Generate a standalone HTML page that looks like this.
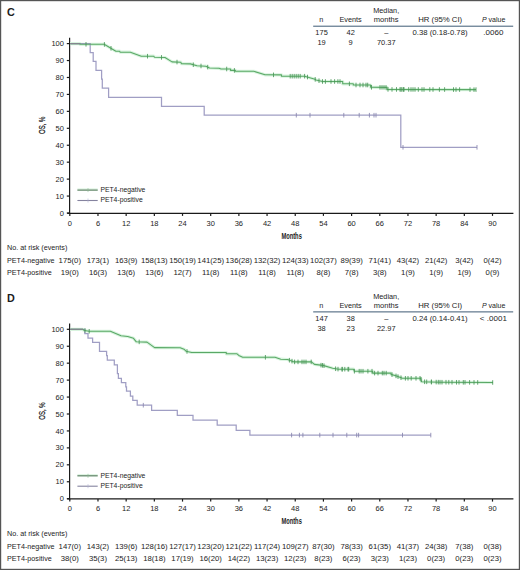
<!DOCTYPE html>
<html><head><meta charset="utf-8"><style>
html,body{margin:0;padding:0;background:#fff;}
body{width:520px;height:570px;overflow:hidden;position:relative;}
svg{position:absolute;left:0;top:0;display:block;}
text{font-family:"Liberation Sans", sans-serif;fill:#1c1c1c;}
</style></head><body>
<svg width="520" height="570" viewBox="0 0 520 570">
<rect x="0" y="0" width="520" height="570" fill="#fff"/>
<g transform="translate(0,0)">
<text x="7.0" y="16.2" font-size="10.8" font-weight="bold">C</text>
<text x="321.30" y="22.20" font-size="7.3" text-anchor="middle" >n</text>
<text x="350.60" y="22.20" font-size="7.3" text-anchor="middle" >Events</text>
<text x="386.20" y="13.20" font-size="7.3" text-anchor="middle" >Median,</text>
<text x="386.20" y="22.20" font-size="7.3" text-anchor="middle" textLength="24.80" lengthAdjust="spacingAndGlyphs" >months</text>
<text x="440.20" y="22.20" font-size="7.3" text-anchor="middle" textLength="44.00" lengthAdjust="spacingAndGlyphs" >HR (95% CI)</text>
<text x="493.7" y="22.2" font-size="7.3" text-anchor="middle" textLength="23.4" lengthAdjust="spacingAndGlyphs"><tspan font-style="italic">P</tspan> value</text>
<line x1="313.2" y1="26.2" x2="513.2" y2="26.2" stroke="#3e5a74" stroke-width="1"/>
<text x="321.60" y="34.90" font-size="7.3" text-anchor="middle" textLength="12.42" lengthAdjust="spacingAndGlyphs" >175</text>
<text x="350.70" y="34.90" font-size="7.3" text-anchor="middle" textLength="8.28" lengthAdjust="spacingAndGlyphs" >42</text>
<text x="386.30" y="34.90" font-size="7.3" text-anchor="middle" textLength="4.14" lengthAdjust="spacingAndGlyphs" >&#8211;</text>
<text x="440.00" y="34.90" font-size="7.3" text-anchor="middle" textLength="55.06" lengthAdjust="spacingAndGlyphs" >0.38 (0.18-0.78)</text>
<text x="493.40" y="34.90" font-size="7.3" text-anchor="middle" textLength="20.10" lengthAdjust="spacingAndGlyphs" >.0060</text>
<text x="321.60" y="45.40" font-size="7.3" text-anchor="middle" textLength="8.28" lengthAdjust="spacingAndGlyphs" >19</text>
<text x="350.70" y="45.40" font-size="7.3" text-anchor="middle" textLength="4.14" lengthAdjust="spacingAndGlyphs" >9</text>
<text x="386.30" y="45.40" font-size="7.3" text-anchor="middle" textLength="18.63" lengthAdjust="spacingAndGlyphs" >70.37</text>
<g stroke="#1a1a1a" stroke-width="1.2" fill="none">
<line x1="69.6" y1="37.7" x2="69.6" y2="213.9"/>
<line x1="67.2" y1="213.3" x2="513.4" y2="213.3" stroke-width="1.35"/>
<line x1="66.8" y1="213.00" x2="69.6" y2="213.00"/>
<line x1="66.8" y1="196.06" x2="69.6" y2="196.06"/>
<line x1="66.8" y1="179.12" x2="69.6" y2="179.12"/>
<line x1="66.8" y1="162.18" x2="69.6" y2="162.18"/>
<line x1="66.8" y1="145.24" x2="69.6" y2="145.24"/>
<line x1="66.8" y1="128.30" x2="69.6" y2="128.30"/>
<line x1="66.8" y1="111.36" x2="69.6" y2="111.36"/>
<line x1="66.8" y1="94.42" x2="69.6" y2="94.42"/>
<line x1="66.8" y1="77.48" x2="69.6" y2="77.48"/>
<line x1="66.8" y1="60.54" x2="69.6" y2="60.54"/>
<line x1="66.8" y1="43.60" x2="69.6" y2="43.60"/>
<line x1="69.80" y1="213.3" x2="69.80" y2="215.9"/>
<line x1="97.98" y1="213.3" x2="97.98" y2="215.9"/>
<line x1="126.16" y1="213.3" x2="126.16" y2="215.9"/>
<line x1="154.34" y1="213.3" x2="154.34" y2="215.9"/>
<line x1="182.52" y1="213.3" x2="182.52" y2="215.9"/>
<line x1="210.70" y1="213.3" x2="210.70" y2="215.9"/>
<line x1="238.88" y1="213.3" x2="238.88" y2="215.9"/>
<line x1="267.06" y1="213.3" x2="267.06" y2="215.9"/>
<line x1="295.24" y1="213.3" x2="295.24" y2="215.9"/>
<line x1="323.42" y1="213.3" x2="323.42" y2="215.9"/>
<line x1="351.60" y1="213.3" x2="351.60" y2="215.9"/>
<line x1="379.78" y1="213.3" x2="379.78" y2="215.9"/>
<line x1="407.96" y1="213.3" x2="407.96" y2="215.9"/>
<line x1="436.14" y1="213.3" x2="436.14" y2="215.9"/>
<line x1="464.32" y1="213.3" x2="464.32" y2="215.9"/>
<line x1="492.50" y1="213.3" x2="492.50" y2="215.9"/>
</g>
<text x="63.90" y="215.60" font-size="7.5" text-anchor="end" >0</text>
<text x="63.90" y="198.66" font-size="7.5" text-anchor="end" >10</text>
<text x="63.90" y="181.72" font-size="7.5" text-anchor="end" >20</text>
<text x="63.90" y="164.78" font-size="7.5" text-anchor="end" >30</text>
<text x="63.90" y="147.84" font-size="7.5" text-anchor="end" >40</text>
<text x="63.90" y="130.90" font-size="7.5" text-anchor="end" >50</text>
<text x="63.90" y="113.96" font-size="7.5" text-anchor="end" >60</text>
<text x="63.90" y="97.02" font-size="7.5" text-anchor="end" >70</text>
<text x="63.90" y="80.08" font-size="7.5" text-anchor="end" >80</text>
<text x="63.90" y="63.14" font-size="7.5" text-anchor="end" >90</text>
<text x="63.90" y="46.20" font-size="7.5" text-anchor="end" >100</text>
<text x="69.80" y="225.70" font-size="7.5" text-anchor="middle" >0</text>
<text x="97.98" y="225.70" font-size="7.5" text-anchor="middle" >6</text>
<text x="126.16" y="225.70" font-size="7.5" text-anchor="middle" >12</text>
<text x="154.34" y="225.70" font-size="7.5" text-anchor="middle" >18</text>
<text x="182.52" y="225.70" font-size="7.5" text-anchor="middle" >24</text>
<text x="210.70" y="225.70" font-size="7.5" text-anchor="middle" >30</text>
<text x="238.88" y="225.70" font-size="7.5" text-anchor="middle" >36</text>
<text x="267.06" y="225.70" font-size="7.5" text-anchor="middle" >42</text>
<text x="295.24" y="225.70" font-size="7.5" text-anchor="middle" >48</text>
<text x="323.42" y="225.70" font-size="7.5" text-anchor="middle" >54</text>
<text x="351.60" y="225.70" font-size="7.5" text-anchor="middle" >60</text>
<text x="379.78" y="225.70" font-size="7.5" text-anchor="middle" >66</text>
<text x="407.96" y="225.70" font-size="7.5" text-anchor="middle" >72</text>
<text x="436.14" y="225.70" font-size="7.5" text-anchor="middle" >78</text>
<text x="464.32" y="225.70" font-size="7.5" text-anchor="middle" >84</text>
<text x="492.50" y="225.70" font-size="7.5" text-anchor="middle" >90</text>
<text transform="translate(45.3,125.4) rotate(-90) scale(0.66,1)" x="0" y="0" font-size="9" text-anchor="middle" stroke="#111" stroke-width="0.25">OS, %</text>
<text transform="translate(291.6,238.6) scale(0.64,1)" x="0" y="0" font-size="9" text-anchor="middle" font-weight="bold">Months</text>
<line x1="77.4" y1="189.6" x2="97.7" y2="189.6" stroke="#e0f5e4" stroke-width="2.6"/>
<line x1="77.4" y1="190.1" x2="97.7" y2="190.1" stroke="#5a7a60" stroke-width="1.1"/>
<line x1="88" y1="188.1" x2="88" y2="192.1" stroke="#8fb896" stroke-width="0.6"/>
<line x1="77.4" y1="200.5" x2="97.7" y2="200.5" stroke="#85839f" stroke-width="1.1"/>
<line x1="88" y1="198.5" x2="88" y2="202.5" stroke="#b0aed0" stroke-width="0.6"/>
<text x="100.40" y="192.10" font-size="6.8" text-anchor="start" >PET4-negative</text>
<text x="100.40" y="202.40" font-size="6.8" text-anchor="start" >PET4-positive</text>
<text x="7.00" y="250.00" font-size="7.2" text-anchor="start" >No. at risk (events)</text>
<text x="7.00" y="263.00" font-size="7.2" text-anchor="start" >PET4-negative</text>
<text x="7.00" y="275.20" font-size="7.2" text-anchor="start" >PET4-positive</text>
<text x="69.80" y="263.00" font-size="7.3" text-anchor="middle" textLength="22.37" lengthAdjust="spacingAndGlyphs" >175(0)</text>
<text x="69.80" y="275.20" font-size="7.3" text-anchor="middle" textLength="18.07" lengthAdjust="spacingAndGlyphs" >19(0)</text>
<text x="97.98" y="263.00" font-size="7.3" text-anchor="middle" textLength="22.37" lengthAdjust="spacingAndGlyphs" >173(1)</text>
<text x="97.98" y="275.20" font-size="7.3" text-anchor="middle" textLength="18.07" lengthAdjust="spacingAndGlyphs" >16(3)</text>
<text x="126.16" y="263.00" font-size="7.3" text-anchor="middle" textLength="22.37" lengthAdjust="spacingAndGlyphs" >163(9)</text>
<text x="126.16" y="275.20" font-size="7.3" text-anchor="middle" textLength="18.07" lengthAdjust="spacingAndGlyphs" >13(6)</text>
<text x="154.34" y="263.00" font-size="7.3" text-anchor="middle" textLength="26.67" lengthAdjust="spacingAndGlyphs" >158(13)</text>
<text x="154.34" y="275.20" font-size="7.3" text-anchor="middle" textLength="18.07" lengthAdjust="spacingAndGlyphs" >13(6)</text>
<text x="182.52" y="263.00" font-size="7.3" text-anchor="middle" textLength="26.67" lengthAdjust="spacingAndGlyphs" >150(19)</text>
<text x="182.52" y="275.20" font-size="7.3" text-anchor="middle" textLength="18.07" lengthAdjust="spacingAndGlyphs" >12(7)</text>
<text x="210.70" y="263.00" font-size="7.3" text-anchor="middle" textLength="26.67" lengthAdjust="spacingAndGlyphs" >141(25)</text>
<text x="210.70" y="275.20" font-size="7.3" text-anchor="middle" textLength="17.49" lengthAdjust="spacingAndGlyphs" >11(8)</text>
<text x="238.88" y="263.00" font-size="7.3" text-anchor="middle" textLength="26.67" lengthAdjust="spacingAndGlyphs" >136(28)</text>
<text x="238.88" y="275.20" font-size="7.3" text-anchor="middle" textLength="17.49" lengthAdjust="spacingAndGlyphs" >11(8)</text>
<text x="267.06" y="263.00" font-size="7.3" text-anchor="middle" textLength="26.67" lengthAdjust="spacingAndGlyphs" >132(32)</text>
<text x="267.06" y="275.20" font-size="7.3" text-anchor="middle" textLength="17.49" lengthAdjust="spacingAndGlyphs" >11(8)</text>
<text x="295.24" y="263.00" font-size="7.3" text-anchor="middle" textLength="26.67" lengthAdjust="spacingAndGlyphs" >124(33)</text>
<text x="295.24" y="275.20" font-size="7.3" text-anchor="middle" textLength="17.49" lengthAdjust="spacingAndGlyphs" >11(8)</text>
<text x="323.42" y="263.00" font-size="7.3" text-anchor="middle" textLength="26.67" lengthAdjust="spacingAndGlyphs" >102(37)</text>
<text x="323.42" y="275.20" font-size="7.3" text-anchor="middle" textLength="13.76" lengthAdjust="spacingAndGlyphs" >8(8)</text>
<text x="351.60" y="263.00" font-size="7.3" text-anchor="middle" textLength="22.37" lengthAdjust="spacingAndGlyphs" >89(39)</text>
<text x="351.60" y="275.20" font-size="7.3" text-anchor="middle" textLength="13.76" lengthAdjust="spacingAndGlyphs" >7(8)</text>
<text x="379.78" y="263.00" font-size="7.3" text-anchor="middle" textLength="22.37" lengthAdjust="spacingAndGlyphs" >71(41)</text>
<text x="379.78" y="275.20" font-size="7.3" text-anchor="middle" textLength="13.76" lengthAdjust="spacingAndGlyphs" >3(8)</text>
<text x="407.96" y="263.00" font-size="7.3" text-anchor="middle" textLength="22.37" lengthAdjust="spacingAndGlyphs" >43(42)</text>
<text x="407.96" y="275.20" font-size="7.3" text-anchor="middle" textLength="13.76" lengthAdjust="spacingAndGlyphs" >1(9)</text>
<text x="436.14" y="263.00" font-size="7.3" text-anchor="middle" textLength="22.37" lengthAdjust="spacingAndGlyphs" >21(42)</text>
<text x="436.14" y="275.20" font-size="7.3" text-anchor="middle" textLength="13.76" lengthAdjust="spacingAndGlyphs" >1(9)</text>
<text x="464.32" y="263.00" font-size="7.3" text-anchor="middle" textLength="18.07" lengthAdjust="spacingAndGlyphs" >3(42)</text>
<text x="464.32" y="275.20" font-size="7.3" text-anchor="middle" textLength="13.76" lengthAdjust="spacingAndGlyphs" >1(9)</text>
<text x="492.50" y="263.00" font-size="7.3" text-anchor="middle" textLength="18.07" lengthAdjust="spacingAndGlyphs" >0(42)</text>
<text x="492.50" y="275.20" font-size="7.3" text-anchor="middle" textLength="13.76" lengthAdjust="spacingAndGlyphs" >0(9)</text>
</g>
<g transform="translate(0,285.7)">
<text x="7.0" y="16.2" font-size="10.8" font-weight="bold">D</text>
<text x="321.30" y="22.20" font-size="7.3" text-anchor="middle" >n</text>
<text x="350.60" y="22.20" font-size="7.3" text-anchor="middle" >Events</text>
<text x="386.20" y="13.20" font-size="7.3" text-anchor="middle" >Median,</text>
<text x="386.20" y="22.20" font-size="7.3" text-anchor="middle" textLength="24.80" lengthAdjust="spacingAndGlyphs" >months</text>
<text x="440.20" y="22.20" font-size="7.3" text-anchor="middle" textLength="44.00" lengthAdjust="spacingAndGlyphs" >HR (95% CI)</text>
<text x="493.7" y="22.2" font-size="7.3" text-anchor="middle" textLength="23.4" lengthAdjust="spacingAndGlyphs"><tspan font-style="italic">P</tspan> value</text>
<line x1="313.2" y1="26.2" x2="513.2" y2="26.2" stroke="#3e5a74" stroke-width="1"/>
<text x="321.60" y="34.90" font-size="7.3" text-anchor="middle" textLength="12.42" lengthAdjust="spacingAndGlyphs" >147</text>
<text x="350.70" y="34.90" font-size="7.3" text-anchor="middle" textLength="8.28" lengthAdjust="spacingAndGlyphs" >38</text>
<text x="386.30" y="34.90" font-size="7.3" text-anchor="middle" textLength="4.14" lengthAdjust="spacingAndGlyphs" >&#8211;</text>
<text x="440.00" y="34.90" font-size="7.3" text-anchor="middle" textLength="55.06" lengthAdjust="spacingAndGlyphs" >0.24 (0.14-0.41)</text>
<text x="493.40" y="34.90" font-size="7.3" text-anchor="middle" textLength="27.02" lengthAdjust="spacingAndGlyphs" >&lt; .0001</text>
<text x="321.60" y="45.40" font-size="7.3" text-anchor="middle" textLength="8.28" lengthAdjust="spacingAndGlyphs" >38</text>
<text x="350.70" y="45.40" font-size="7.3" text-anchor="middle" textLength="8.28" lengthAdjust="spacingAndGlyphs" >23</text>
<text x="386.30" y="45.40" font-size="7.3" text-anchor="middle" textLength="18.63" lengthAdjust="spacingAndGlyphs" >22.97</text>
<g stroke="#1a1a1a" stroke-width="1.2" fill="none">
<line x1="69.6" y1="37.7" x2="69.6" y2="213.9"/>
<line x1="67.2" y1="213.1" x2="513.4" y2="213.1" stroke-width="1.35"/>
<line x1="66.8" y1="213.00" x2="69.6" y2="213.00"/>
<line x1="66.8" y1="196.06" x2="69.6" y2="196.06"/>
<line x1="66.8" y1="179.12" x2="69.6" y2="179.12"/>
<line x1="66.8" y1="162.18" x2="69.6" y2="162.18"/>
<line x1="66.8" y1="145.24" x2="69.6" y2="145.24"/>
<line x1="66.8" y1="128.30" x2="69.6" y2="128.30"/>
<line x1="66.8" y1="111.36" x2="69.6" y2="111.36"/>
<line x1="66.8" y1="94.42" x2="69.6" y2="94.42"/>
<line x1="66.8" y1="77.48" x2="69.6" y2="77.48"/>
<line x1="66.8" y1="60.54" x2="69.6" y2="60.54"/>
<line x1="66.8" y1="43.60" x2="69.6" y2="43.60"/>
<line x1="69.80" y1="213.3" x2="69.80" y2="215.9"/>
<line x1="97.98" y1="213.3" x2="97.98" y2="215.9"/>
<line x1="126.16" y1="213.3" x2="126.16" y2="215.9"/>
<line x1="154.34" y1="213.3" x2="154.34" y2="215.9"/>
<line x1="182.52" y1="213.3" x2="182.52" y2="215.9"/>
<line x1="210.70" y1="213.3" x2="210.70" y2="215.9"/>
<line x1="238.88" y1="213.3" x2="238.88" y2="215.9"/>
<line x1="267.06" y1="213.3" x2="267.06" y2="215.9"/>
<line x1="295.24" y1="213.3" x2="295.24" y2="215.9"/>
<line x1="323.42" y1="213.3" x2="323.42" y2="215.9"/>
<line x1="351.60" y1="213.3" x2="351.60" y2="215.9"/>
<line x1="379.78" y1="213.3" x2="379.78" y2="215.9"/>
<line x1="407.96" y1="213.3" x2="407.96" y2="215.9"/>
<line x1="436.14" y1="213.3" x2="436.14" y2="215.9"/>
<line x1="464.32" y1="213.3" x2="464.32" y2="215.9"/>
<line x1="492.50" y1="213.3" x2="492.50" y2="215.9"/>
</g>
<text x="63.90" y="215.60" font-size="7.5" text-anchor="end" >0</text>
<text x="63.90" y="198.66" font-size="7.5" text-anchor="end" >10</text>
<text x="63.90" y="181.72" font-size="7.5" text-anchor="end" >20</text>
<text x="63.90" y="164.78" font-size="7.5" text-anchor="end" >30</text>
<text x="63.90" y="147.84" font-size="7.5" text-anchor="end" >40</text>
<text x="63.90" y="130.90" font-size="7.5" text-anchor="end" >50</text>
<text x="63.90" y="113.96" font-size="7.5" text-anchor="end" >60</text>
<text x="63.90" y="97.02" font-size="7.5" text-anchor="end" >70</text>
<text x="63.90" y="80.08" font-size="7.5" text-anchor="end" >80</text>
<text x="63.90" y="63.14" font-size="7.5" text-anchor="end" >90</text>
<text x="63.90" y="46.20" font-size="7.5" text-anchor="end" >100</text>
<text x="69.80" y="225.70" font-size="7.5" text-anchor="middle" >0</text>
<text x="97.98" y="225.70" font-size="7.5" text-anchor="middle" >6</text>
<text x="126.16" y="225.70" font-size="7.5" text-anchor="middle" >12</text>
<text x="154.34" y="225.70" font-size="7.5" text-anchor="middle" >18</text>
<text x="182.52" y="225.70" font-size="7.5" text-anchor="middle" >24</text>
<text x="210.70" y="225.70" font-size="7.5" text-anchor="middle" >30</text>
<text x="238.88" y="225.70" font-size="7.5" text-anchor="middle" >36</text>
<text x="267.06" y="225.70" font-size="7.5" text-anchor="middle" >42</text>
<text x="295.24" y="225.70" font-size="7.5" text-anchor="middle" >48</text>
<text x="323.42" y="225.70" font-size="7.5" text-anchor="middle" >54</text>
<text x="351.60" y="225.70" font-size="7.5" text-anchor="middle" >60</text>
<text x="379.78" y="225.70" font-size="7.5" text-anchor="middle" >66</text>
<text x="407.96" y="225.70" font-size="7.5" text-anchor="middle" >72</text>
<text x="436.14" y="225.70" font-size="7.5" text-anchor="middle" >78</text>
<text x="464.32" y="225.70" font-size="7.5" text-anchor="middle" >84</text>
<text x="492.50" y="225.70" font-size="7.5" text-anchor="middle" >90</text>
<text transform="translate(45.3,125.4) rotate(-90) scale(0.66,1)" x="0" y="0" font-size="9" text-anchor="middle" stroke="#111" stroke-width="0.25">OS, %</text>
<text transform="translate(291.6,238.6) scale(0.64,1)" x="0" y="0" font-size="9" text-anchor="middle" font-weight="bold">Months</text>
<line x1="77.4" y1="189.6" x2="97.7" y2="189.6" stroke="#e0f5e4" stroke-width="2.6"/>
<line x1="77.4" y1="190.1" x2="97.7" y2="190.1" stroke="#5a7a60" stroke-width="1.1"/>
<line x1="88" y1="188.1" x2="88" y2="192.1" stroke="#8fb896" stroke-width="0.6"/>
<line x1="77.4" y1="200.5" x2="97.7" y2="200.5" stroke="#85839f" stroke-width="1.1"/>
<line x1="88" y1="198.5" x2="88" y2="202.5" stroke="#b0aed0" stroke-width="0.6"/>
<text x="100.40" y="192.10" font-size="6.8" text-anchor="start" >PET4-negative</text>
<text x="100.40" y="202.40" font-size="6.8" text-anchor="start" >PET4-positive</text>
<text x="7.00" y="250.00" font-size="7.2" text-anchor="start" >No. at risk (events)</text>
<text x="7.00" y="263.00" font-size="7.2" text-anchor="start" >PET4-negative</text>
<text x="7.00" y="275.20" font-size="7.2" text-anchor="start" >PET4-positive</text>
<text x="69.80" y="263.00" font-size="7.3" text-anchor="middle" textLength="22.37" lengthAdjust="spacingAndGlyphs" >147(0)</text>
<text x="69.80" y="275.20" font-size="7.3" text-anchor="middle" textLength="18.07" lengthAdjust="spacingAndGlyphs" >38(0)</text>
<text x="97.98" y="263.00" font-size="7.3" text-anchor="middle" textLength="22.37" lengthAdjust="spacingAndGlyphs" >143(2)</text>
<text x="97.98" y="275.20" font-size="7.3" text-anchor="middle" textLength="18.07" lengthAdjust="spacingAndGlyphs" >35(3)</text>
<text x="126.16" y="263.00" font-size="7.3" text-anchor="middle" textLength="22.37" lengthAdjust="spacingAndGlyphs" >139(6)</text>
<text x="126.16" y="275.20" font-size="7.3" text-anchor="middle" textLength="22.37" lengthAdjust="spacingAndGlyphs" >25(13)</text>
<text x="154.34" y="263.00" font-size="7.3" text-anchor="middle" textLength="26.67" lengthAdjust="spacingAndGlyphs" >128(16)</text>
<text x="154.34" y="275.20" font-size="7.3" text-anchor="middle" textLength="22.37" lengthAdjust="spacingAndGlyphs" >18(18)</text>
<text x="182.52" y="263.00" font-size="7.3" text-anchor="middle" textLength="26.67" lengthAdjust="spacingAndGlyphs" >127(17)</text>
<text x="182.52" y="275.20" font-size="7.3" text-anchor="middle" textLength="22.37" lengthAdjust="spacingAndGlyphs" >17(19)</text>
<text x="210.70" y="263.00" font-size="7.3" text-anchor="middle" textLength="26.67" lengthAdjust="spacingAndGlyphs" >123(20)</text>
<text x="210.70" y="275.20" font-size="7.3" text-anchor="middle" textLength="22.37" lengthAdjust="spacingAndGlyphs" >16(20)</text>
<text x="238.88" y="263.00" font-size="7.3" text-anchor="middle" textLength="26.67" lengthAdjust="spacingAndGlyphs" >121(22)</text>
<text x="238.88" y="275.20" font-size="7.3" text-anchor="middle" textLength="22.37" lengthAdjust="spacingAndGlyphs" >14(22)</text>
<text x="267.06" y="263.00" font-size="7.3" text-anchor="middle" textLength="26.10" lengthAdjust="spacingAndGlyphs" >117(24)</text>
<text x="267.06" y="275.20" font-size="7.3" text-anchor="middle" textLength="22.37" lengthAdjust="spacingAndGlyphs" >13(23)</text>
<text x="295.24" y="263.00" font-size="7.3" text-anchor="middle" textLength="26.67" lengthAdjust="spacingAndGlyphs" >109(27)</text>
<text x="295.24" y="275.20" font-size="7.3" text-anchor="middle" textLength="22.37" lengthAdjust="spacingAndGlyphs" >12(23)</text>
<text x="323.42" y="263.00" font-size="7.3" text-anchor="middle" textLength="22.37" lengthAdjust="spacingAndGlyphs" >87(30)</text>
<text x="323.42" y="275.20" font-size="7.3" text-anchor="middle" textLength="18.07" lengthAdjust="spacingAndGlyphs" >8(23)</text>
<text x="351.60" y="263.00" font-size="7.3" text-anchor="middle" textLength="22.37" lengthAdjust="spacingAndGlyphs" >78(33)</text>
<text x="351.60" y="275.20" font-size="7.3" text-anchor="middle" textLength="18.07" lengthAdjust="spacingAndGlyphs" >6(23)</text>
<text x="379.78" y="263.00" font-size="7.3" text-anchor="middle" textLength="22.37" lengthAdjust="spacingAndGlyphs" >61(35)</text>
<text x="379.78" y="275.20" font-size="7.3" text-anchor="middle" textLength="18.07" lengthAdjust="spacingAndGlyphs" >3(23)</text>
<text x="407.96" y="263.00" font-size="7.3" text-anchor="middle" textLength="22.37" lengthAdjust="spacingAndGlyphs" >41(37)</text>
<text x="407.96" y="275.20" font-size="7.3" text-anchor="middle" textLength="18.07" lengthAdjust="spacingAndGlyphs" >1(23)</text>
<text x="436.14" y="263.00" font-size="7.3" text-anchor="middle" textLength="22.37" lengthAdjust="spacingAndGlyphs" >24(38)</text>
<text x="436.14" y="275.20" font-size="7.3" text-anchor="middle" textLength="18.07" lengthAdjust="spacingAndGlyphs" >0(23)</text>
<text x="464.32" y="263.00" font-size="7.3" text-anchor="middle" textLength="18.07" lengthAdjust="spacingAndGlyphs" >7(38)</text>
<text x="464.32" y="275.20" font-size="7.3" text-anchor="middle" textLength="18.07" lengthAdjust="spacingAndGlyphs" >0(23)</text>
<text x="492.50" y="263.00" font-size="7.3" text-anchor="middle" textLength="18.07" lengthAdjust="spacingAndGlyphs" >0(38)</text>
<text x="492.50" y="275.20" font-size="7.3" text-anchor="middle" textLength="18.07" lengthAdjust="spacingAndGlyphs" >0(23)</text>
</g>
<polyline points="70.00,43.60 80.00,43.60 80.00,44.30 104.20,44.30 115.90,51.20 119.60,51.20 120.20,52.20 130.40,52.20 141.30,56.20 153.80,56.20 154.50,57.20 165.00,57.50 172.00,61.90 180.80,62.20 181.50,63.70 190.40,63.90 197.00,65.80 205.80,66.20 209.60,68.00 219.00,68.30 221.00,69.00 230.60,69.00 230.60,70.40 235.40,70.40 235.40,71.30 253.70,71.30 265.00,74.80 281.50,74.90 281.50,76.20 304.60,76.20 315.00,79.20 316.00,80.00 322.50,81.50 342.70,81.50 342.70,83.80 353.30,83.80 353.30,85.00 370.60,85.00 370.60,87.30 387.00,87.40 387.00,89.40 476.00,89.60" fill="none" stroke="#d9f4df" stroke-width="3.2" stroke-linejoin="round"/>
<polyline points="70.00,43.60 90.20,43.60 90.20,52.60 93.20,52.60 93.20,61.40 96.00,61.40 96.00,70.30 101.60,70.30 101.60,79.20 102.30,79.20 102.30,88.10 108.60,88.10 108.60,97.30 161.50,97.30 161.50,106.30 204.20,106.30 204.20,115.20 400.80,115.20 400.80,147.30 477.00,147.30" fill="none" stroke="#a09ec4" stroke-width="1.25"/>
<g stroke="#8684ae" stroke-width="0.85"><line x1="296.30" y1="112.90" x2="296.30" y2="117.50"/><line x1="310.00" y1="112.90" x2="310.00" y2="117.50"/><line x1="343.80" y1="112.90" x2="343.80" y2="117.50"/><line x1="359.20" y1="112.90" x2="359.20" y2="117.50"/><line x1="369.40" y1="112.90" x2="369.40" y2="117.50"/><line x1="374.00" y1="112.90" x2="374.00" y2="117.50"/><line x1="376.00" y1="112.90" x2="376.00" y2="117.50"/><line x1="403.00" y1="145.00" x2="403.00" y2="149.60"/><line x1="477.00" y1="145.00" x2="477.00" y2="149.60"/></g>
<polyline points="70.00,43.60 80.00,43.60 80.00,44.30 104.20,44.30 115.90,51.20 119.60,51.20 120.20,52.20 130.40,52.20 141.30,56.20 153.80,56.20 154.50,57.20 165.00,57.50 172.00,61.90 180.80,62.20 181.50,63.70 190.40,63.90 197.00,65.80 205.80,66.20 209.60,68.00 219.00,68.30 221.00,69.00 230.60,69.00 230.60,70.40 235.40,70.40 235.40,71.30 253.70,71.30 265.00,74.80 281.50,74.90 281.50,76.20 304.60,76.20 315.00,79.20 316.00,80.00 322.50,81.50 342.70,81.50 342.70,83.80 353.30,83.80 353.30,85.00 370.60,85.00 370.60,87.30 387.00,87.40 387.00,89.40 476.00,89.60" fill="none" stroke="#5aa866" stroke-width="1.1" stroke-linejoin="round"/>
<g stroke="#4a9658" stroke-width="0.85"><line x1="86.00" y1="42.00" x2="86.00" y2="46.60"/><line x1="104.40" y1="42.12" x2="104.40" y2="46.72"/><line x1="111.00" y1="46.01" x2="111.00" y2="50.61"/><line x1="147.50" y1="53.90" x2="147.50" y2="58.50"/><line x1="161.50" y1="55.10" x2="161.50" y2="59.70"/><line x1="177.00" y1="59.77" x2="177.00" y2="64.37"/><line x1="193.30" y1="62.43" x2="193.30" y2="67.03"/><line x1="201.00" y1="63.68" x2="201.00" y2="68.28"/><line x1="207.70" y1="64.80" x2="207.70" y2="69.40"/><line x1="226.70" y1="66.70" x2="226.70" y2="71.30"/><line x1="234.40" y1="68.10" x2="234.40" y2="72.70"/><line x1="273.50" y1="72.55" x2="273.50" y2="77.15"/><line x1="290.20" y1="73.90" x2="290.20" y2="78.50"/><line x1="292.20" y1="73.90" x2="292.20" y2="78.50"/><line x1="294.20" y1="73.90" x2="294.20" y2="78.50"/><line x1="296.20" y1="73.90" x2="296.20" y2="78.50"/><line x1="298.20" y1="73.90" x2="298.20" y2="78.50"/><line x1="300.20" y1="73.90" x2="300.20" y2="78.50"/><line x1="304.60" y1="73.90" x2="304.60" y2="78.50"/><line x1="307.50" y1="74.74" x2="307.50" y2="79.34"/><line x1="315.20" y1="77.06" x2="315.20" y2="81.66"/><line x1="319.00" y1="78.39" x2="319.00" y2="82.99"/><line x1="322.50" y1="79.20" x2="322.50" y2="83.80"/><line x1="325.40" y1="79.20" x2="325.40" y2="83.80"/><line x1="331.00" y1="79.20" x2="331.00" y2="83.80"/><line x1="334.60" y1="79.20" x2="334.60" y2="83.80"/><line x1="337.90" y1="79.20" x2="337.90" y2="83.80"/><line x1="340.00" y1="79.20" x2="340.00" y2="83.80"/><line x1="349.40" y1="81.50" x2="349.40" y2="86.10"/><line x1="356.00" y1="82.70" x2="356.00" y2="87.30"/><line x1="360.00" y1="82.70" x2="360.00" y2="87.30"/><line x1="363.00" y1="82.70" x2="363.00" y2="87.30"/><line x1="366.00" y1="82.70" x2="366.00" y2="87.30"/><line x1="367.70" y1="82.70" x2="367.70" y2="87.30"/><line x1="371.50" y1="85.01" x2="371.50" y2="89.61"/><line x1="380.00" y1="85.06" x2="380.00" y2="89.66"/><line x1="382.00" y1="85.07" x2="382.00" y2="89.67"/><line x1="384.00" y1="85.08" x2="384.00" y2="89.68"/><line x1="386.00" y1="85.09" x2="386.00" y2="89.69"/><line x1="388.00" y1="87.10" x2="388.00" y2="91.70"/><line x1="392.00" y1="87.11" x2="392.00" y2="91.71"/><line x1="396.50" y1="87.12" x2="396.50" y2="91.72"/><line x1="400.00" y1="87.13" x2="400.00" y2="91.73"/><line x1="402.00" y1="87.13" x2="402.00" y2="91.73"/><line x1="404.00" y1="87.14" x2="404.00" y2="91.74"/><line x1="401.00" y1="87.13" x2="401.00" y2="91.73"/><line x1="403.50" y1="87.14" x2="403.50" y2="91.74"/><line x1="408.70" y1="87.15" x2="408.70" y2="91.75"/><line x1="411.00" y1="87.15" x2="411.00" y2="91.75"/><line x1="413.00" y1="87.16" x2="413.00" y2="91.76"/><line x1="415.00" y1="87.16" x2="415.00" y2="91.76"/><line x1="418.30" y1="87.17" x2="418.30" y2="91.77"/><line x1="422.00" y1="87.18" x2="422.00" y2="91.78"/><line x1="424.00" y1="87.18" x2="424.00" y2="91.78"/><line x1="429.80" y1="87.20" x2="429.80" y2="91.80"/><line x1="433.00" y1="87.20" x2="433.00" y2="91.80"/><line x1="439.40" y1="87.22" x2="439.40" y2="91.82"/><line x1="444.60" y1="87.23" x2="444.60" y2="91.83"/><line x1="453.50" y1="87.25" x2="453.50" y2="91.85"/><line x1="456.00" y1="87.26" x2="456.00" y2="91.86"/><line x1="459.60" y1="87.26" x2="459.60" y2="91.86"/><line x1="470.00" y1="87.29" x2="470.00" y2="91.89"/><line x1="474.00" y1="87.30" x2="474.00" y2="91.90"/><line x1="476.00" y1="87.30" x2="476.00" y2="91.90"/></g>
<line x1="70" y1="43.6" x2="80" y2="43.6" stroke="#85858f" stroke-width="1.2"/>
<polyline points="70.00,329.30 82.50,329.30 84.00,330.30 86.00,330.70 89.20,331.30 110.40,331.30 121.00,335.80 127.70,336.50 133.50,338.30 136.30,341.80 147.00,342.10 154.60,347.60 180.20,347.70 184.00,349.20 186.00,351.20 191.70,352.50 226.30,352.50 226.30,353.80 237.00,353.80 238.80,355.40 242.70,357.30 275.00,357.30 280.80,359.20 287.50,359.50 290.40,360.60 294.20,361.90 311.50,361.90 314.40,364.40 323.00,365.40 332.70,368.30 338.50,369.20 353.50,369.20 354.40,371.20 372.70,371.20 372.70,373.10 391.00,373.10 391.00,374.40 395.80,375.80 402.50,378.30 420.80,378.30 421.50,381.70 440.00,382.20 493.00,382.50" fill="none" stroke="#d9f4df" stroke-width="3.2" stroke-linejoin="round"/>
<polyline points="70.00,329.30 84.80,329.30 84.80,333.50 88.00,333.50 88.00,338.20 92.60,338.20 92.60,342.40 99.50,342.40 99.50,351.30 106.60,351.30 106.60,355.60 107.30,355.60 107.30,360.20 114.30,360.20 114.30,364.80 117.40,364.80 117.40,373.60 118.40,373.60 118.40,378.40 121.40,378.40 121.40,382.60 125.80,382.60 125.80,386.80 126.50,386.80 126.50,391.10 130.40,391.10 130.40,396.00 132.80,396.00 132.80,400.40 137.20,400.40 137.20,405.20 151.60,405.20 151.60,410.40 177.30,410.40 177.30,415.30 193.00,415.30 193.00,420.00 217.20,420.00 217.20,425.20 236.20,425.20 236.20,430.30 249.90,430.30 249.90,435.10 430.80,435.10" fill="none" stroke="#a09ec4" stroke-width="1.25"/>
<g stroke="#8684ae" stroke-width="0.85"><line x1="143.30" y1="402.90" x2="143.30" y2="407.50"/><line x1="291.60" y1="432.80" x2="291.60" y2="437.40"/><line x1="299.40" y1="432.80" x2="299.40" y2="437.40"/><line x1="302.90" y1="432.80" x2="302.90" y2="437.40"/><line x1="319.80" y1="432.80" x2="319.80" y2="437.40"/><line x1="333.00" y1="432.80" x2="333.00" y2="437.40"/><line x1="346.80" y1="432.80" x2="346.80" y2="437.40"/><line x1="356.70" y1="432.80" x2="356.70" y2="437.40"/><line x1="358.60" y1="432.80" x2="358.60" y2="437.40"/><line x1="402.50" y1="432.80" x2="402.50" y2="437.40"/><line x1="430.80" y1="432.80" x2="430.80" y2="437.40"/></g>
<polyline points="70.00,329.30 82.50,329.30 84.00,330.30 86.00,330.70 89.20,331.30 110.40,331.30 121.00,335.80 127.70,336.50 133.50,338.30 136.30,341.80 147.00,342.10 154.60,347.60 180.20,347.70 184.00,349.20 186.00,351.20 191.70,352.50 226.30,352.50 226.30,353.80 237.00,353.80 238.80,355.40 242.70,357.30 275.00,357.30 280.80,359.20 287.50,359.50 290.40,360.60 294.20,361.90 311.50,361.90 314.40,364.40 323.00,365.40 332.70,368.30 338.50,369.20 353.50,369.20 354.40,371.20 372.70,371.20 372.70,373.10 391.00,373.10 391.00,374.40 395.80,375.80 402.50,378.30 420.80,378.30 421.50,381.70 440.00,382.20 493.00,382.50" fill="none" stroke="#5aa866" stroke-width="1.1" stroke-linejoin="round"/>
<g stroke="#4a9658" stroke-width="0.85"><line x1="85.00" y1="328.20" x2="85.00" y2="332.80"/><line x1="89.20" y1="329.00" x2="89.20" y2="333.60"/><line x1="139.20" y1="339.58" x2="139.20" y2="344.18"/><line x1="187.00" y1="349.13" x2="187.00" y2="353.73"/><line x1="265.40" y1="355.00" x2="265.40" y2="359.60"/><line x1="289.40" y1="357.92" x2="289.40" y2="362.52"/><line x1="292.00" y1="358.85" x2="292.00" y2="363.45"/><line x1="294.60" y1="359.60" x2="294.60" y2="364.20"/><line x1="298.00" y1="359.60" x2="298.00" y2="364.20"/><line x1="302.00" y1="359.60" x2="302.00" y2="364.20"/><line x1="304.00" y1="359.60" x2="304.00" y2="364.20"/><line x1="306.00" y1="359.60" x2="306.00" y2="364.20"/><line x1="311.20" y1="359.60" x2="311.20" y2="364.20"/><line x1="321.00" y1="362.87" x2="321.00" y2="367.47"/><line x1="322.50" y1="363.04" x2="322.50" y2="367.64"/><line x1="324.00" y1="363.40" x2="324.00" y2="368.00"/><line x1="335.60" y1="366.45" x2="335.60" y2="371.05"/><line x1="338.00" y1="366.82" x2="338.00" y2="371.42"/><line x1="342.30" y1="366.90" x2="342.30" y2="371.50"/><line x1="348.00" y1="366.90" x2="348.00" y2="371.50"/><line x1="342.00" y1="366.90" x2="342.00" y2="371.50"/><line x1="344.80" y1="366.90" x2="344.80" y2="371.50"/><line x1="348.70" y1="366.90" x2="348.70" y2="371.50"/><line x1="354.40" y1="368.90" x2="354.40" y2="373.50"/><line x1="359.20" y1="368.90" x2="359.20" y2="373.50"/><line x1="361.00" y1="368.90" x2="361.00" y2="373.50"/><line x1="363.00" y1="368.90" x2="363.00" y2="373.50"/><line x1="367.90" y1="368.90" x2="367.90" y2="373.50"/><line x1="372.00" y1="368.90" x2="372.00" y2="373.50"/><line x1="374.60" y1="370.80" x2="374.60" y2="375.40"/><line x1="378.00" y1="370.80" x2="378.00" y2="375.40"/><line x1="382.30" y1="370.80" x2="382.30" y2="375.40"/><line x1="384.00" y1="370.80" x2="384.00" y2="375.40"/><line x1="386.20" y1="370.80" x2="386.20" y2="375.40"/><line x1="392.00" y1="372.39" x2="392.00" y2="376.99"/><line x1="396.00" y1="373.57" x2="396.00" y2="378.17"/><line x1="398.00" y1="374.32" x2="398.00" y2="378.92"/><line x1="401.00" y1="375.44" x2="401.00" y2="380.04"/><line x1="405.40" y1="376.00" x2="405.40" y2="380.60"/><line x1="408.00" y1="376.00" x2="408.00" y2="380.60"/><line x1="411.20" y1="376.00" x2="411.20" y2="380.60"/><line x1="416.00" y1="376.00" x2="416.00" y2="380.60"/><line x1="420.00" y1="376.00" x2="420.00" y2="380.60"/><line x1="424.60" y1="379.48" x2="424.60" y2="384.08"/><line x1="431.30" y1="379.66" x2="431.30" y2="384.26"/><line x1="436.20" y1="379.80" x2="436.20" y2="384.40"/><line x1="421.00" y1="376.97" x2="421.00" y2="381.57"/><line x1="426.70" y1="379.54" x2="426.70" y2="384.14"/><line x1="431.50" y1="379.67" x2="431.50" y2="384.27"/><line x1="438.30" y1="379.85" x2="438.30" y2="384.45"/><line x1="440.00" y1="379.90" x2="440.00" y2="384.50"/><line x1="442.00" y1="379.91" x2="442.00" y2="384.51"/><line x1="446.00" y1="379.93" x2="446.00" y2="384.53"/><line x1="448.80" y1="379.95" x2="448.80" y2="384.55"/><line x1="452.00" y1="379.97" x2="452.00" y2="384.57"/><line x1="456.50" y1="379.99" x2="456.50" y2="384.59"/><line x1="459.00" y1="380.01" x2="459.00" y2="384.61"/><line x1="463.30" y1="380.03" x2="463.30" y2="384.63"/><line x1="465.00" y1="380.04" x2="465.00" y2="384.64"/><line x1="469.60" y1="380.07" x2="469.60" y2="384.67"/><line x1="474.00" y1="380.09" x2="474.00" y2="384.69"/><line x1="477.70" y1="380.11" x2="477.70" y2="384.71"/><line x1="492.70" y1="380.20" x2="492.70" y2="384.80"/></g>
<line x1="70" y1="329.3" x2="83" y2="329.3" stroke="#85858f" stroke-width="1.2"/>
<rect x="0.6" y="0.6" width="518.8" height="568.8" fill="none" stroke="#555" stroke-width="1.2"/>
</svg>
</body></html>
